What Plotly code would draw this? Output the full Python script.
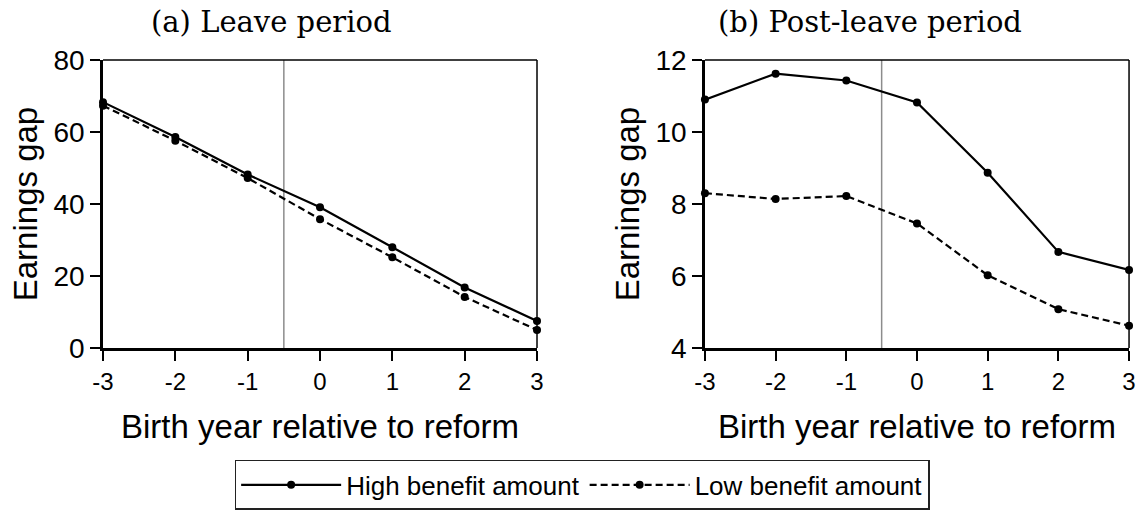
import plotly.graph_objects as go

years = [-3, -2, -1, 0, 1, 2, 3]
leave_high = [68.3, 58.6, 48.2, 39.1, 28.0, 16.8, 7.5]
leave_low = [67.3, 57.6, 47.2, 35.8, 25.2, 14.2, 5.0]
post_high = [10.9, 11.62, 11.43, 10.82, 8.87, 6.67, 6.17]
post_low = [8.3, 8.14, 8.22, 7.46, 6.02, 5.08, 4.62]
titles = ["(a) Leave period", "(b) Post-leave period"]
series_names = ["High benefit amount", "Low benefit amount"]
reform_x = -0.5

fig = go.Figure()

def add_pair(high, low, xa, ya, show):
    fig.add_trace(go.Scatter(x=years, y=high, mode="lines+markers", name=series_names[0],
                             line=dict(color="black", width=2.2), marker=dict(size=8, color="black"),
                             xaxis=xa, yaxis=ya, showlegend=show, cliponaxis=False))
    fig.add_trace(go.Scatter(x=years, y=low, mode="lines+markers", name=series_names[1],
                             line=dict(color="black", width=2.2, dash="7px,4px"), marker=dict(size=8, color="black"),
                             xaxis=xa, yaxis=ya, showlegend=show, cliponaxis=False))

add_pair(leave_high, leave_low, "x", "y", True)
add_pair(post_high, post_low, "x2", "y2", False)

ydom = [0.3203, 0.8828]
xtickfont = dict(family="Liberation Sans, Arial", size=24, color="black")
ytickfont = dict(family="Liberation Sans, Arial", size=28, color="black")
titlefont = dict(family="Liberation Sans, Arial", size=33, color="black")
common_x = dict(range=[-3, 3], tickvals=years, ticktext=[str(v) for v in years],
                showline=True, linewidth=2.5, linecolor="black", ticks="outside", ticklen=10,
                tickwidth=2, tickcolor="black", showgrid=False, zeroline=False, tickfont=xtickfont,
                automargin=False,
                title=dict(text="Birth year relative to reform", font=titlefont, standoff=22))
common_y = dict(showline=True, linewidth=2.5, linecolor="black", ticks="outside", ticklen=10,
                tickwidth=2, tickcolor="black", showgrid=False, zeroline=False, tickfont=ytickfont,
                automargin=False,
                title=dict(text="Earnings gap", font=titlefont, standoff=6))

fig.update_layout(
    width=1137, height=512, margin=dict(l=0, r=0, t=0, b=0, autoexpand=False),
    plot_bgcolor="white", paper_bgcolor="white",
    xaxis=dict(domain=[0.0906, 0.4723], anchor="y", **common_x),
    yaxis=dict(domain=ydom, anchor="x", range=[0, 80], tickvals=[0, 20, 40, 60, 80], **common_y),
    xaxis2=dict(domain=[0.6200, 0.9930], anchor="y2", **common_x),
    yaxis2=dict(domain=ydom, anchor="x2", range=[4, 12], tickvals=[4, 6, 8, 10, 12], **common_y),
    legend=dict(orientation="h", x=0.512, xanchor="center", y=0.004, yanchor="bottom",
                bordercolor="#222222", borderwidth=1.5, itemwidth=100,
                font=dict(family="Liberation Sans, Arial", size=26, color="black"),
                tracegroupgap=0, itemclick=False),
    showlegend=True,
)

for xa, ya in [("x", "y"), ("x2", "y2")]:
    # top and right frame lines (thinner than the axis lines)
    fig.add_shape(type="line", xref=f"{xa} domain", yref=f"{ya} domain", x0=0, x1=1, y0=1, y1=1,
                  line=dict(color="black", width=1.5), layer="above")
    fig.add_shape(type="line", xref=f"{xa} domain", yref=f"{ya} domain", x0=1, x1=1, y0=0, y1=1,
                  line=dict(color="black", width=1.5), layer="above")
    fig.add_shape(type="line", xref=xa, yref=f"{ya} domain", x0=reform_x, x1=reform_x, y0=0, y1=1,
                  line=dict(color="#8c8c8c", width=1.5), layer="below")

title_x_px = [271, 870]
for i, px in enumerate(title_x_px):
    fig.add_annotation(text=titles[i], x=px / 1137, y=0.957, xref="paper", yref="paper",
                       xanchor="center", yanchor="middle", showarrow=False,
                       font=dict(family="DejaVu Serif", size=29, color="black"))

fig.write_html("out.html", config={"displayModeBar": False},
               post_script="document.body.style.margin='0';")
